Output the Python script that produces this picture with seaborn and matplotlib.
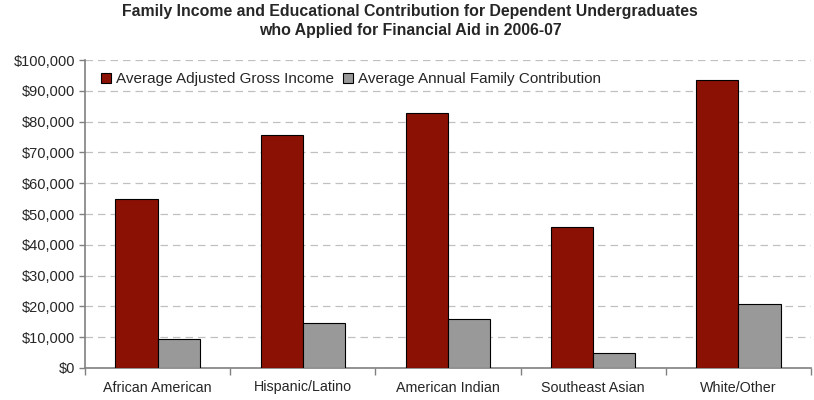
import matplotlib
matplotlib.use("Agg")
import matplotlib.pyplot as plt
import matplotlib.ticker as mticker
import seaborn as sns
import pandas as pd
import numpy as np

categories = ["African American", "Hispanic/Latino", "American Indian", "Southeast Asian", "White/Other"]
gross_income = [54900, 75600, 82800, 45900, 93600]
family_contribution = [9300, 14500, 15800, 4800, 20700]
series_names = ["Average Adjusted Gross Income", "Average Annual Family Contribution"]

df = pd.DataFrame({
    "group": categories * 2,
    "series": [series_names[0]] * len(categories) + [series_names[1]] * len(categories),
    "value": gross_income + family_contribution,
})

sns.set_theme(style="white")
plt.rcParams["font.family"] = ["Liberation Sans", "DejaVu Sans"]

fig = plt.figure(figsize=(8.14, 4.0), dpi=100)
ax = fig.add_axes([85 / 814, 1 - 368 / 400, (811 - 85) / 814, (368 - 60) / 400])

palette = {series_names[0]: "#8B1105", series_names[1]: "#999999"}
sns.barplot(data=df, x="group", y="value", hue="series", palette=palette,
            width=0.58, edgecolor="black", linewidth=0.8, saturation=1,
            ax=ax, zorder=3)

ax.set_ylim(0, 100000)
ax.set_xlim(-0.5, len(categories) - 0.5)
ax.yaxis.set_major_locator(mticker.MultipleLocator(10000))
ax.yaxis.set_major_formatter(mticker.FuncFormatter(lambda v, p: f"${v:,.0f}"))
ax.grid(axis="y", color="#c0c0c0", linestyle=(0, (6, 4)), linewidth=0.9, zorder=0)
ax.set_axisbelow(True)

for side in ["top", "right"]:
    ax.spines[side].set_visible(False)
for side in ["left", "bottom"]:
    ax.spines[side].set_color("#808080")
    ax.spines[side].set_linewidth(1.2)

ax.tick_params(axis="y", which="major", direction="out", length=4, width=1,
               color="#808080", labelsize=10.5, pad=3, left=True)
ax.tick_params(axis="x", which="major", length=0, labelsize=10.3, pad=9)
ax.set_xticks(np.arange(-0.5, len(categories)), minor=True)
ax.tick_params(axis="x", which="minor", direction="out", length=5, width=1,
               color="#808080", bottom=True)
ax.set_xlabel("")
ax.set_ylabel("")

leg = ax.legend(loc="upper left", bbox_to_anchor=(0.01, 0.99), ncol=2, frameon=False,
                fontsize=11, handlelength=0.65, handleheight=0.65, handletextpad=0.3,
                columnspacing=0.6, borderaxespad=0.2)
for h in leg.legend_handles:
    h.set_edgecolor("black")
    h.set_linewidth(0.8)

fig.suptitle("Family Income and Educational Contribution for Dependent Undergraduates\n"
             "who Applied for Financial Aid in 2006-07",
             x=410 / 814, y=0.99, fontsize=11.4, fontweight="bold",
             linespacing=1.3)

fig.savefig("out.png", dpi=100, facecolor="white")
